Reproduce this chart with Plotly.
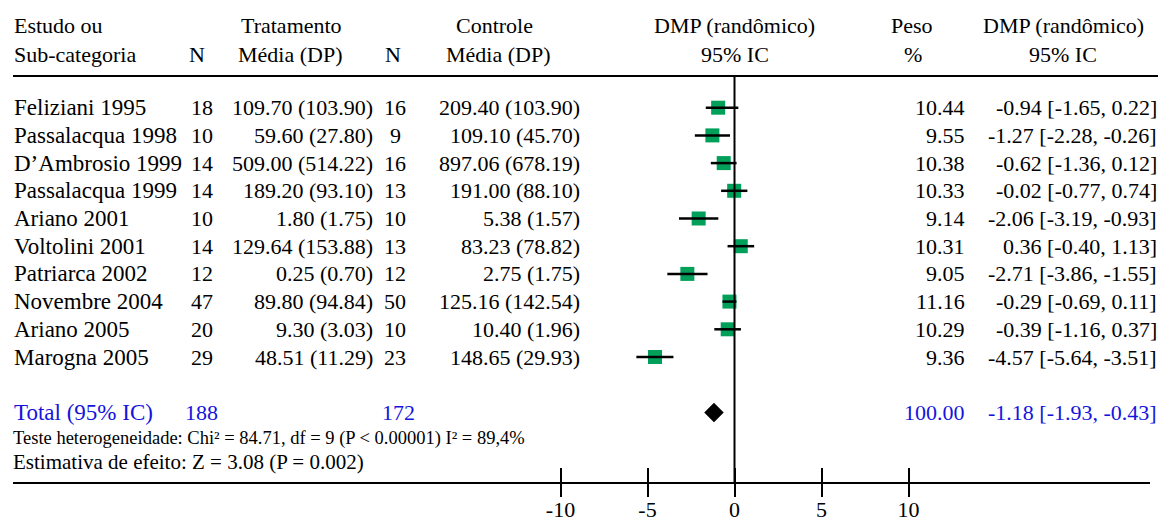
import plotly.graph_objects as go

# ---------------- data ----------------
studies = ["Feliziani 1995", "Passalacqua 1998", "D’Ambrosio 1999", "Passalacqua 1999",
           "Ariano 2001", "Voltolini 2001", "Patriarca 2002", "Novembre 2004",
           "Ariano 2005", "Marogna 2005"]
n_trt = [18, 10, 14, 14, 10, 14, 12, 47, 20, 29]
trt_mean = [109.70, 59.60, 509.00, 189.20, 1.80, 129.64, 0.25, 89.80, 9.30, 48.51]
trt_sd = [103.90, 27.80, 514.22, 93.10, 1.75, 153.88, 0.70, 94.84, 3.03, 11.29]
n_ctl = [16, 9, 16, 13, 10, 13, 12, 50, 10, 23]
ctl_mean = [209.40, 109.10, 897.06, 191.00, 5.38, 83.23, 2.75, 125.16, 10.40, 148.65]
ctl_sd = [103.90, 45.70, 678.19, 88.10, 1.57, 78.82, 1.75, 142.54, 1.96, 29.93]
weight = [10.44, 9.55, 10.38, 10.33, 9.14, 10.31, 9.05, 11.16, 10.29, 9.36]
smd = [-0.94, -1.27, -0.62, -0.02, -2.06, 0.36, -2.71, -0.29, -0.39, -4.57]
ci_lo = [-1.65, -2.28, -1.36, -0.77, -3.19, -0.40, -3.86, -0.69, -1.16, -5.64]
ci_hi = [0.22, -0.26, 0.12, 0.74, -0.93, 1.13, -1.55, 0.11, 0.37, -3.51]

total_label = "Total (95% IC)"
total_n_trt = 188
total_n_ctl = 172
total_weight = 100.00
total_smd = -1.18
total_lo = -1.93
total_hi = -0.43

heterogeneity = "Teste heterogeneidade: Chi² = 84.71, df = 9 (P < 0.00001) I² = 89,4%"
effect_test = "Estimativa de efeito: Z = 3.08 (P = 0.002)"

x_ticks = [-10, -5, 0, 5, 10]
x_tick_labels = ["-10", "-5", "0", "5", "10"]

# ---------------- layout helpers ----------------
W, H = 1158, 522
PLOT_BOTTOM = 482          # pixel row of the x axis line
ROW0, ROW_STEP = 107.7, 27.7
X0_PIX, PPU = 734.5, 17.4  # pixel of x=0 and pixels per unit
XD_L, XD_R = 13, 1150      # x axis line extent in pixels

FONT = "Liberation Serif"
BLUE = "#1414DC"
GREEN = "#00A05A"
FS = 22


def pxx(p):
    return p / W


def pxy(p):
    return (PLOT_BOTTOM - p) / PLOT_BOTTOM


def row_of(p):
    return (p - ROW0) / ROW_STEP


x_range = [(XD_L - X0_PIX) / PPU, (XD_R - X0_PIX) / PPU]
y_range = [row_of(PLOT_BOTTOM), row_of(0)]

rows = list(range(len(studies)))
total_row = len(studies) + 1

fig = go.Figure()

# study markers
fig.add_trace(go.Scatter(
    x=smd, y=rows, mode="markers",
    marker=dict(symbol="square", size=14, color=GREEN, line=dict(width=0)),
    hoverinfo="skip", showlegend=False))

# CI lines (on top of the squares)
cx, cy = [], []
for lo, hi, r in zip(ci_lo, ci_hi, rows):
    cx += [lo, hi, None]
    cy += [r, r, None]
fig.add_trace(go.Scatter(
    x=cx, y=cy, mode="lines", line=dict(color="black", width=2.5),
    hoverinfo="skip", showlegend=False))

# pooled diamond
fig.add_trace(go.Scatter(
    x=[total_smd], y=[total_row], mode="markers",
    marker=dict(symbol="diamond", size=15, color="black", line=dict(width=0)),
    hoverinfo="skip", showlegend=False))

# empty trace on the overlay axis (cross ticks)
fig.add_trace(go.Scatter(x=[None], y=[None], xaxis="x2", yaxis="y",
                         showlegend=False, hoverinfo="skip"))

ann = []


def txt(text, x, y, anchor, yref="paper", color="black", size=FS):
    ann.append(dict(text=text, x=pxx(x), y=(pxy(y) if yref == "paper" else y),
                    xref="paper", yref=yref, xanchor=anchor, yanchor="middle",
                    showarrow=False, font=dict(family=FONT, size=size, color=color)))


# headers
txt("Estudo ou", 12, 25, "left")
txt("Sub-categoria", 12, 54, "left")
txt("N", 197, 54, "center")
txt("Tratamento", 291, 25, "center")
txt("Média (DP)", 290, 54, "center")
txt("N", 393, 54, "center")
txt("Controle", 494, 25, "center")
txt("Média (DP)", 498, 54, "center")
txt("DMP (randômico)", 734, 25, "center")
txt("95% IC", 735, 54, "center")
txt("Peso", 912, 25, "center")
txt("%", 913, 54, "center")
txt("DMP (randômico)", 1063, 25, "center")
txt("95% IC", 1063, 54, "center")

# study rows
for i, r in enumerate(rows):
    txt(studies[i], 12, r, "left", yref="y", size=23)
    txt(str(n_trt[i]), 202, r, "center", yref="y")
    txt(f"{trt_mean[i]:.2f} ({trt_sd[i]:.2f})", 375, r, "right", yref="y")
    txt(str(n_ctl[i]), 395, r, "center", yref="y")
    txt(f"{ctl_mean[i]:.2f} ({ctl_sd[i]:.2f})", 582, r, "right", yref="y")
    txt(f"{weight[i]:.2f}", 967, r, "right", yref="y")
    txt(f"{smd[i]:.2f} [{ci_lo[i]:.2f}, {ci_hi[i]:.2f}]", 1159, r, "right", yref="y")

# total row
txt(total_label, 12, total_row, "left", yref="y", color=BLUE, size=23)
txt(str(total_n_trt), 201, total_row, "center", yref="y", color=BLUE)
txt(str(total_n_ctl), 398, total_row, "center", yref="y", color=BLUE)
txt(f"{total_weight:.2f}", 967, total_row, "right", yref="y", color=BLUE)
txt(f"{total_smd:.2f} [{total_lo:.2f}, {total_hi:.2f}]", 1159, total_row, "right",
    yref="y", color=BLUE)

txt(heterogeneity, 11, 438, "left", size=18.5)
txt(effect_test, 11, 462, "left", size=21)

shapes = [
    # header rule
    dict(type="line", xref="paper", yref="paper", x0=pxx(13), x1=pxx(1158),
         y0=pxy(76), y1=pxy(76), line=dict(color="black", width=2)),
    # line of no effect
    dict(type="line", xref="x", yref="y", x0=0, x1=0,
         y0=row_of(76), y1=y_range[0], line=dict(color="black", width=2)),
]

fig.update_layout(
    template="none",
    width=W, height=H,
    margin=dict(l=0, r=0, t=0, b=H - PLOT_BOTTOM, pad=0, autoexpand=False),
    paper_bgcolor="white", plot_bgcolor="white",
    showlegend=False,
    annotations=ann, shapes=shapes,
    xaxis=dict(domain=[XD_L / W, XD_R / W], range=x_range, showgrid=False,
               zeroline=False, showline=True, linecolor="black", linewidth=2,
               ticks="outside", ticklen=13, tickwidth=2, tickcolor="black",
               tickvals=x_ticks, ticktext=x_tick_labels, ticklabelstandoff=-6,
               tickfont=dict(family=FONT, size=FS, color="black"),
               automargin=False, fixedrange=True),
    xaxis2=dict(overlaying="x", anchor="y", range=x_range, showgrid=False,
                zeroline=False, showline=False, ticks="inside", ticklen=14,
                tickwidth=2, tickcolor="black", tickvals=x_ticks,
                showticklabels=False, automargin=False, fixedrange=True),
    yaxis=dict(domain=[0, 1], range=y_range, visible=False, automargin=False,
               fixedrange=True),
)

fig.write_html("out.html", config={"displayModeBar": False},
               post_script="document.body.style.margin='0';")
